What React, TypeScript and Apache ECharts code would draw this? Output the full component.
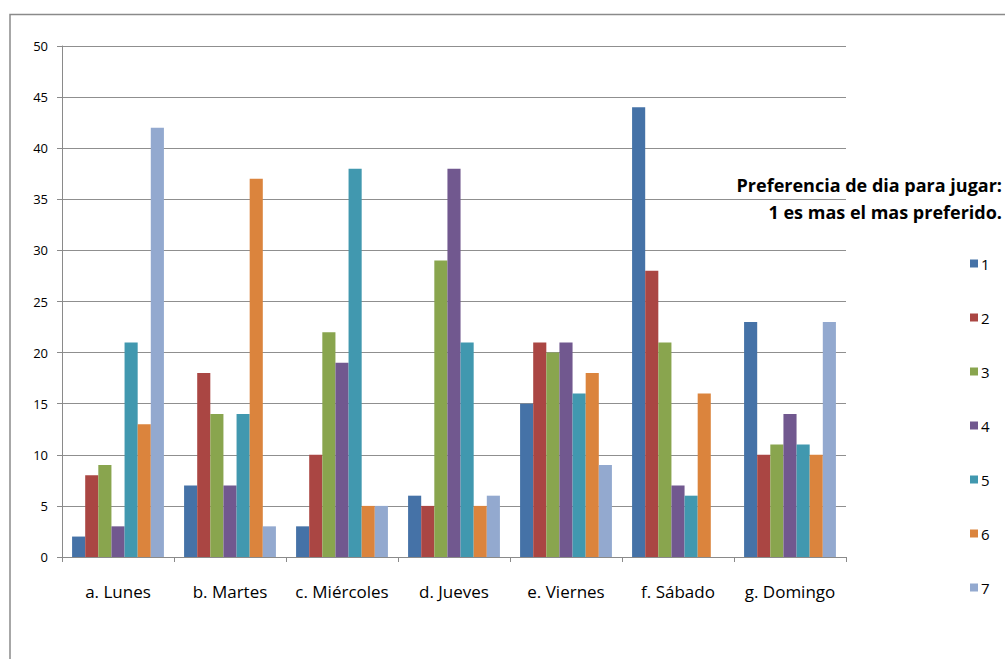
import React, { useEffect, useRef } from "react";
import * as echarts from "echarts";

const days = ["a. Lunes", "b. Martes", "c. Miércoles", "d. Jueves", "e. Viernes", "f. Sábado", "g. Domingo"];
const ranks = ["1", "2", "3", "4", "5", "6", "7"];
const rank1 = [2, 7, 3, 6, 15, 44, 23];
const rank2 = [8, 18, 10, 5, 21, 28, 10];
const rank3 = [9, 14, 22, 29, 20, 21, 11];
const rank4 = [3, 7, 19, 38, 21, 7, 14];
const rank5 = [21, 14, 38, 21, 16, 6, 11];
const rank6 = [13, 37, 5, 5, 18, 16, 10];
const rank7 = [42, 3, 5, 6, 9, 0, 23];
const rankValues = [rank1, rank2, rank3, rank4, rank5, rank6, rank7];
const colors = ["#4572A7", "#AA4643", "#89A54E", "#71588F", "#4198AF", "#DB843D", "#93A9CF"];
const titleLines = ["Preferencia de dia para jugar:", "1 es mas el mas preferido."];

const FONT = "'Open Sans', 'DejaVu Sans', sans-serif";

export default function App() {
  const ref = useRef<HTMLDivElement>(null);

  useEffect(() => {
    if (!ref.current) return;
    const chart = echarts.init(ref.current, undefined, { renderer: "svg" });
    chart.setOption({
      animation: false,
      backgroundColor: "#ffffff",
      color: colors,
      legend: {
        orient: "vertical",
        left: 965,
        top: 251,
        itemWidth: 8,
        itemHeight: 8,
        itemGap: 39,
        icon: "rect",
        data: ranks,
        textStyle: { fontFamily: FONT, fontSize: 15, color: "#000000", padding: [0, 0, 0, -2] },
      },
      graphic: [
        {
          type: "polyline",
          shape: { points: [[10, 659], [10, 14.5], [1005, 14.5]] },
          style: { stroke: "#8a8a8a", lineWidth: 1.5, fill: "none" },
          silent: true,
        },
        {
          type: "text",
          x: 1002,
          y: 171,
          silent: true,
          style: {
            text: titleLines.join("\n"),
            align: "right",
            verticalAlign: "top",
            fontFamily: FONT,
            fontWeight: "bold",
            fontSize: 18,
            lineHeight: 27,
            fill: "#000000",
          },
        },
      ],
      grid: { left: 62, top: 46, width: 784, height: 511, containLabel: false },
      xAxis: {
        type: "category",
        data: days,
        axisLine: { lineStyle: { color: "#8a8a8a", width: 1 } },
        axisTick: { show: true, length: 5, lineStyle: { color: "#8a8a8a" } },
        axisLabel: { interval: 0, fontFamily: FONT, fontSize: 17, color: "#000000", margin: 26 },
      },
      yAxis: {
        type: "value",
        min: 0,
        max: 50,
        interval: 5,
        axisLine: { show: true, lineStyle: { color: "#8a8a8a", width: 1 } },
        axisTick: { show: true, length: 5, lineStyle: { color: "#8a8a8a" } },
        axisLabel: { fontFamily: FONT, fontSize: 13, color: "#000000", margin: 14 },
        splitLine: { lineStyle: { color: "#8f8f8f", width: 1 } },
      },
      series: ranks.map((name, i) => ({
        name,
        type: "bar",
        data: rankValues[i],
        barGap: "0%",
        barCategoryGap: "18%",
        itemStyle: { color: colors[i] },
      })),
    });
    return () => chart.dispose();
  }, []);

  return (
    <div
      ref={ref}
      style={{ position: "fixed", left: 0, top: 0, width: 1005, height: 659 }}
    />
  );
}
